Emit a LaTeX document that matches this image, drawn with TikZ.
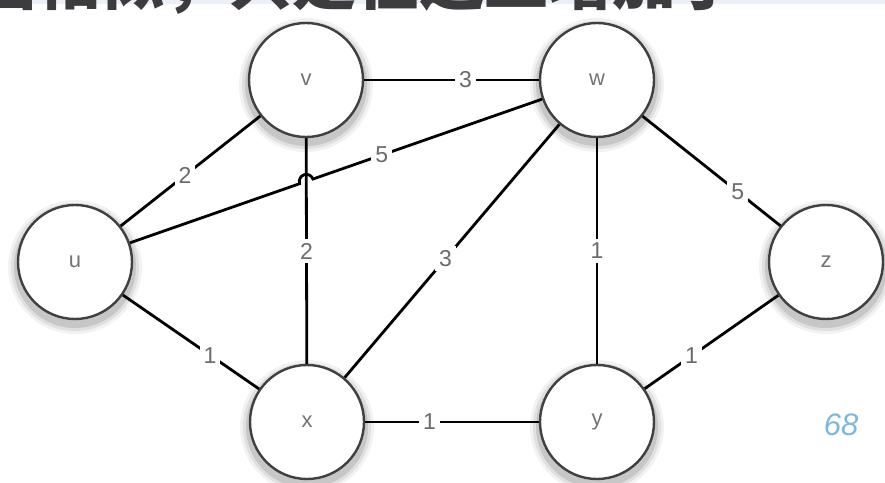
\documentclass[tikz,border=0pt]{standalone}
\usepackage{fontspec}
\setsansfont{Liberation Sans}
\newfontfamily\cjk{Noto Sans CJK SC}
\usetikzlibrary{intersections,calc}
\definecolor{band}{RGB}{234,240,246}
\definecolor{titlegray}{RGB}{60,60,62}
\definecolor{pagenum}{RGB}{125,184,222}
\begin{document}
\begin{tikzpicture}[x=1pt,y=1pt,
  vert/.style={circle,draw=black!75,line width=2.4pt,fill=white,minimum size=114pt,inner sep=0pt,
    font=\sffamily\fontsize{22}{22}\selectfont,text=black!55},
  edge/.style={line width=2.8pt,black},
  wt/.style={fill=white,inner sep=4pt,font=\sffamily\fontsize{23}{23}\selectfont,text=black!58},
  sh1/.style={fill=black!5},sh2/.style={fill=black!12},sh3/.style={fill=black!22}]
\useasboundingbox (0,0) rectangle (885,482);
\clip (0,0) rectangle (885,482);
\fill[band] (0,478) rectangle (885,482);
\node[anchor=base west,inner sep=0pt,text=titlegray,font=\cjk\bfseries\fontsize{64}{64}\selectfont] (title) at (-28,477) {图相似，只是在边上增加了};
% soft shadows (graded greys, outer to inner)
\foreach \cx/\cy in {306/402,597/402,75/220,826/220,307/60,597/60}{
  \fill[sh1] (\cx,\cy-5) circle (67pt);
  \fill[sh2] (\cx,\cy-5) circle (64pt);
  \fill[sh3] (\cx,\cy-5) circle (61pt);
}
% vertices
\node[vert] (v) at (306,402) {v};
\node[vert] (w) at (597,402) {w};
\node[vert] (u) at (75,220) {u};
\node[vert] (z) at (826,220) {z};
\node[vert] (x) at (307,60) {x};
\node[vert] (y) at (597,60) {y};
% edges
\draw[edge] (v) -- node[wt,pos=0.58]{3} (w);
\draw[edge] (u) -- node[wt,pos=0.46]{2} (v);
\draw[edge] (v) -- node[wt,pos=0.50]{2} (x);
\draw[edge] (u) -- node[wt,pos=0.64]{1} (x);
\draw[edge] (x) -- node[wt,pos=0.47]{3} (w);
\draw[edge] (w) -- node[wt,pos=0.50]{1} (y);
\draw[edge] (w) -- node[wt,pos=0.69]{5} (z);
\draw[edge] (z) -- node[wt,pos=0.65]{1} (y);
\draw[edge] (x) -- node[wt,pos=0.37]{1} (y);
% u--w with a hop over v--x
\path[name path=uw] (u.center) -- (w.center);
\path[name path=vx] (v.center) -- (x.center);
\path[name intersections={of=uw and vx,by=h}];
\coordinate (h1) at ($(h)!7pt!(u.center)$);
\draw[edge] (u) -- (h1) arc[start angle=199.22,end angle=19.22,radius=7pt] -- node[wt,pos=0.30]{5} (w);
% page number
\node[font=\sffamily\itshape\fontsize{31}{31}\selectfont,text=pagenum] (page) at (841,57) {68};
\end{tikzpicture}
\end{document}
